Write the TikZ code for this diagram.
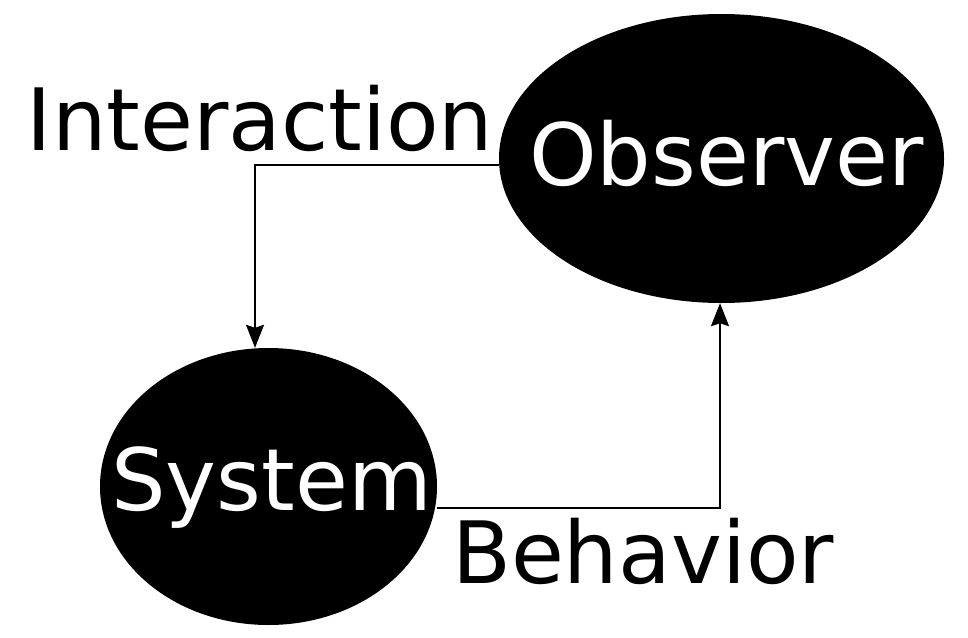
\documentclass[tikz,border=0pt]{standalone}
\usepackage{fontspec}
\setmainfont{DejaVu Sans}
\usetikzlibrary{arrows.meta,shapes.geometric}

\tikzset{
  blob/.style={ellipse, fill=black, draw=none, inner sep=0pt},
  blobtext/.style={text=white, inner sep=0pt, anchor=base},
  caption/.style={text=black, inner sep=0pt, anchor=base},
  link/.style={line width=2pt, -{Stealth[length=23pt, width=18pt, inset=3pt]}}
}

\begin{document}
\begin{tikzpicture}[x=1pt, y=-1pt, font=\fontsize{86}{100}\selectfont]

  \useasboundingbox (0,0) rectangle (968,637);

  % Observer and System
  \node (obs) at (721.5, 158.5) [blob, minimum width=445pt, minimum height=289pt] {};
  \node (obstxt) at ([xshift=5pt, yshift=-26.5pt]obs.center) [blobtext] {Observer};

  \node (sys) at (268.5, 486.5) [blob, minimum width=337pt, minimum height=277pt] {};
  \node (systxt) at ([xshift=3pt, yshift=-23.5pt]sys.center) [blobtext] {System};

  % Labels
  \node (inter) at (260, 150) [caption] {Interaction};
  \node (behav) at (643, 583) [caption] {Behavior};

  % Connectors
  \coordinate (bend1) at (255, 165);
  \coordinate (bend2) at (720, 508);
  \draw[link] ([yshift=-6.5pt]obs.west) -- (bend1) -- (bend1 |- sys.north);
  \draw[link] ([yshift=-21.5pt]sys.east) -- (bend2) -- (bend2 |- obs.south);

\end{tikzpicture}
\end{document}
